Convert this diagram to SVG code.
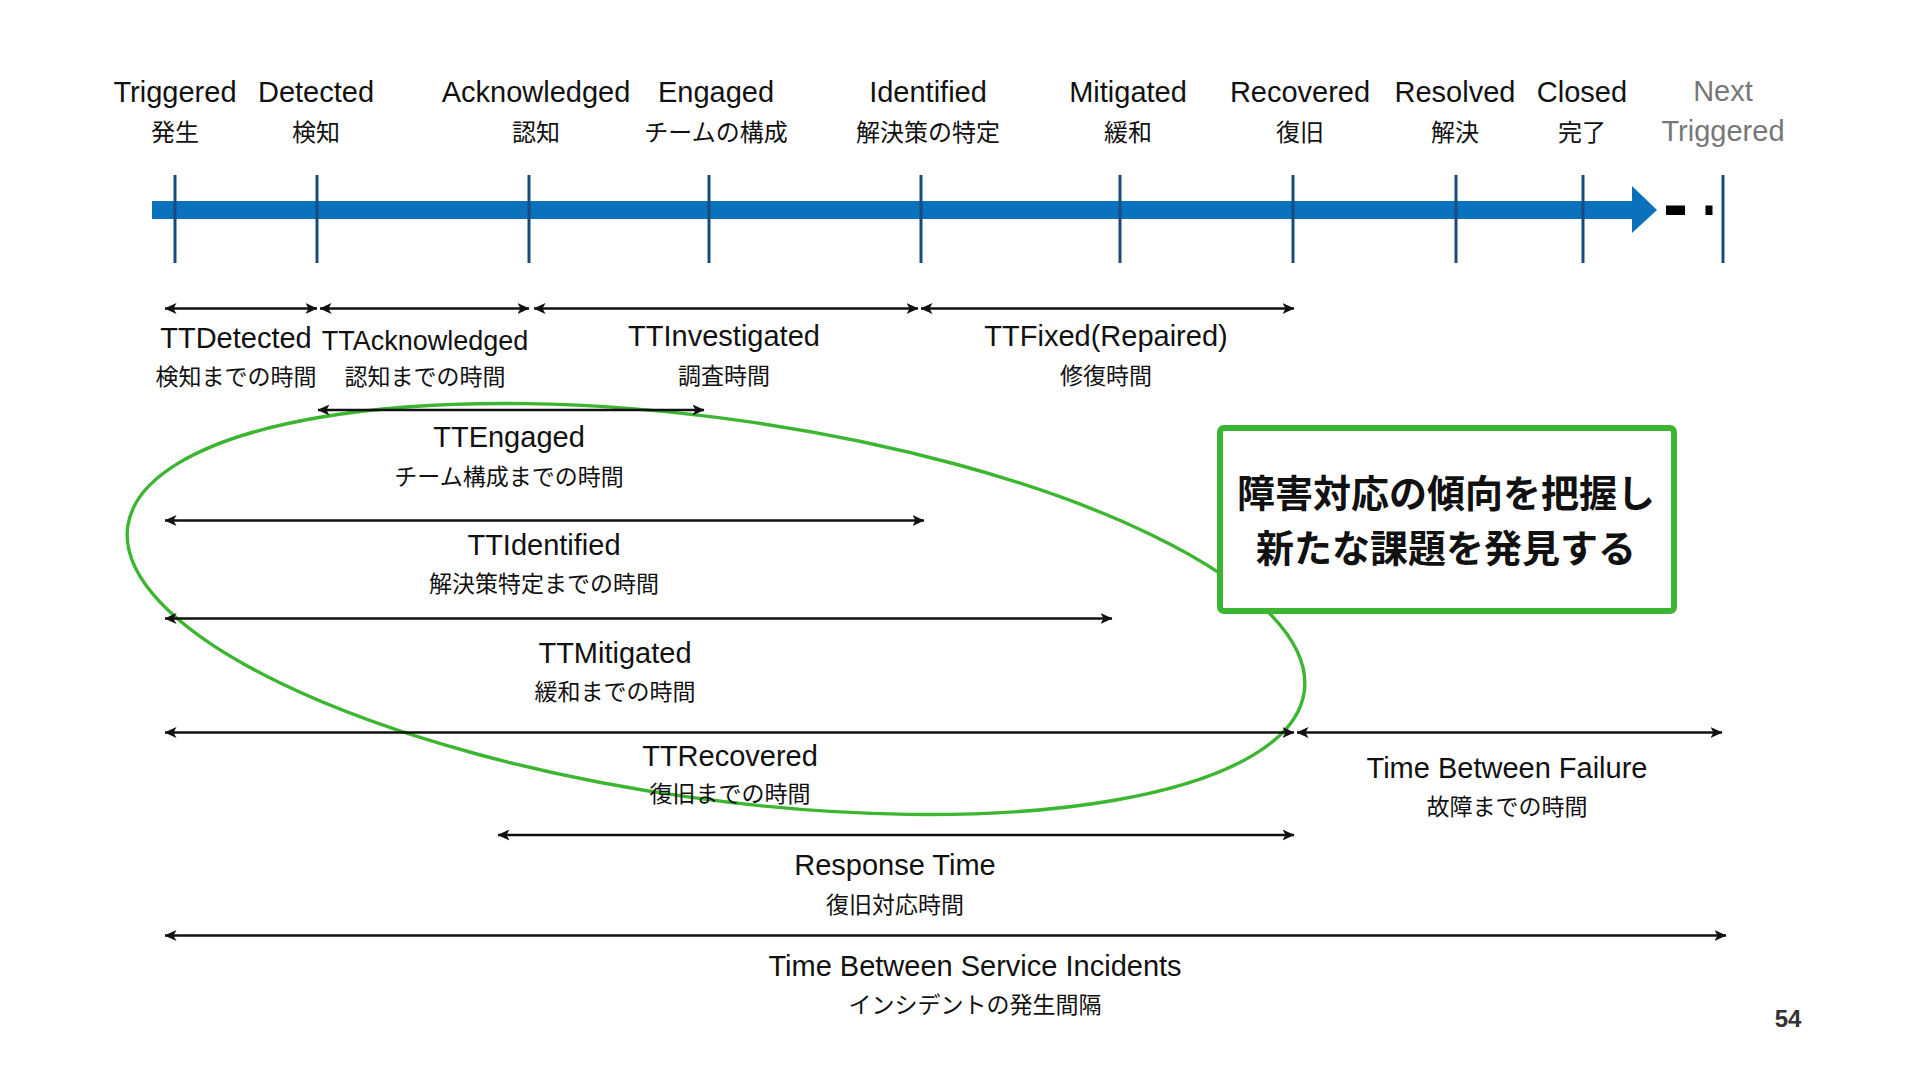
<svg xmlns="http://www.w3.org/2000/svg" width="1920" height="1080" viewBox="0 0 1920 1080">
<style>
.lat{font-family:"Liberation Sans","Noto Sans CJK JP",sans-serif;font-size:29px;fill:#111;text-anchor:middle}
.jp{font-family:"Noto Sans CJK JP",sans-serif;font-size:23px;fill:#111;text-anchor:middle}
.hjp{font-size:24px}
.gray{fill:#777}
.tick{stroke:#1a4b7c;stroke-width:3}
.arr{stroke:#111;stroke-width:2.4;fill:none;marker-start:url(#ah);marker-end:url(#ah)}
.box{font-family:"Noto Sans CJK JP",sans-serif;font-weight:700;font-size:38px;fill:#111;text-anchor:middle}
.grn{fill:none;stroke:#3cb531}
</style>
<defs>
<marker id="ah" markerUnits="userSpaceOnUse" markerWidth="12" markerHeight="11" viewBox="0 0 12 11" refX="11.5" refY="5.5" orient="auto-start-reverse"><path d="M0,0 L12,5.5 L0,11 L3,5.5 Z" fill="#111"/></marker>
</defs>
<rect width="1920" height="1080" fill="#fff"/>

<g id="timeline">
<rect x="152" y="201" width="1482" height="18" fill="#0a72bd"/>
<polygon points="1632,186 1657,210 1632,233" fill="#0a72bd"/>
<rect x="1666" y="205.5" width="19" height="9.5" fill="#000"/>
<rect x="1705.5" y="205.5" width="7" height="9.5" fill="#000"/>
</g>

<g id="m-triggered"><text class="lat" x="175" y="102">Triggered</text><text class="jp hjp" x="175" y="141">発生</text><line class="tick" x1="175" y1="175" x2="175" y2="263"/></g>
<g id="m-detected"><text class="lat" x="316" y="102">Detected</text><text class="jp hjp" x="316" y="141">検知</text><line class="tick" x1="317" y1="175" x2="317" y2="263"/></g>
<g id="m-acknowledged"><text class="lat" x="536" y="102">Acknowledged</text><text class="jp hjp" x="536" y="141">認知</text><line class="tick" x1="529" y1="175" x2="529" y2="263"/></g>
<g id="m-engaged"><text class="lat" x="716" y="102">Engaged</text><text class="jp hjp" x="716" y="141">チームの構成</text><line class="tick" x1="709" y1="175" x2="709" y2="263"/></g>
<g id="m-identified"><text class="lat" x="928" y="102">Identified</text><text class="jp hjp" x="928" y="141">解決策の特定</text><line class="tick" x1="921" y1="175" x2="921" y2="263"/></g>
<g id="m-mitigated"><text class="lat" x="1128" y="102">Mitigated</text><text class="jp hjp" x="1128" y="141">緩和</text><line class="tick" x1="1120" y1="175" x2="1120" y2="263"/></g>
<g id="m-recovered"><text class="lat" x="1300" y="102">Recovered</text><text class="jp hjp" x="1300" y="141">復旧</text><line class="tick" x1="1293" y1="175" x2="1293" y2="263"/></g>
<g id="m-resolved"><text class="lat" x="1455" y="102">Resolved</text><text class="jp hjp" x="1455" y="141">解決</text><line class="tick" x1="1456" y1="175" x2="1456" y2="263"/></g>
<g id="m-closed"><text class="lat" x="1582" y="102">Closed</text><text class="jp hjp" x="1582" y="141">完了</text><line class="tick" x1="1583" y1="175" x2="1583" y2="263"/></g>
<g id="m-next"><text class="lat gray" x="1723" y="101">Next</text><text class="lat gray" x="1723" y="141">Triggered</text><line class="tick" x1="1723" y1="175" x2="1723" y2="263"/></g>

<g id="highlight-ellipse">
<ellipse class="grn" cx="716" cy="609" rx="594" ry="190" transform="rotate(8 716 609)" stroke-width="3.4"/>
</g>

<g id="connectors">
<line class="arr" x1="165" y1="308.5" x2="317" y2="308.5"/>
<line class="arr" x1="320" y1="308.5" x2="529" y2="308.5"/>
<line class="arr" x1="534" y1="308.5" x2="918" y2="308.5"/>
<line class="arr" x1="921" y1="308.5" x2="1294" y2="308.5"/>
<line class="arr" x1="318" y1="410" x2="704" y2="410"/>
<line class="arr" x1="165" y1="520.5" x2="924" y2="520.5"/>
<line class="arr" x1="165" y1="618.5" x2="1112" y2="618.5"/>
<line class="arr" x1="165" y1="732.5" x2="1294" y2="732.5"/>
<line class="arr" x1="1297" y1="732.5" x2="1722" y2="732.5"/>
<line class="arr" x1="498" y1="835" x2="1294" y2="835"/>
<line class="arr" x1="165" y1="935.5" x2="1726" y2="935.5"/>
</g>

<g id="i-ttdetected"><text class="lat" x="236" y="348">TTDetected</text><text class="jp" x="236" y="385">検知までの時間</text></g>
<g id="i-ttacknowledged"><text class="lat" x="425" y="350" style="font-size:27px">TTAcknowledged</text><text class="jp" x="425" y="385">認知までの時間</text></g>
<g id="i-ttinvestigated"><text class="lat" x="724" y="346">TTInvestigated</text><text class="jp" x="724" y="384">調査時間</text></g>
<g id="i-ttfixed"><text class="lat" x="1106" y="346">TTFixed(Repaired)</text><text class="jp" x="1106" y="384">修復時間</text></g>
<g id="i-ttengaged"><text class="lat" x="509" y="447">TTEngaged</text><text class="jp" x="509" y="485">チーム構成までの時間</text></g>
<g id="i-ttidentified"><text class="lat" x="544" y="555">TTIdentified</text><text class="jp" x="544" y="592">解決策特定までの時間</text></g>
<g id="i-ttmitigated"><text class="lat" x="615" y="663">TTMitigated</text><text class="jp" x="615" y="700">緩和までの時間</text></g>
<g id="i-ttrecovered"><text class="lat" x="730" y="766">TTRecovered</text><text class="jp" x="730" y="802">復旧までの時間</text></g>
<g id="i-tbf"><text class="lat" x="1507" y="778">Time Between Failure</text><text class="jp" x="1507" y="815">故障までの時間</text></g>
<g id="i-response"><text class="lat" x="895" y="875">Response Time</text><text class="jp" x="895" y="913">復旧対応時間</text></g>
<g id="i-tbsi"><text class="lat" x="975" y="976">Time Between Service Incidents</text><text class="jp" x="975" y="1013">インシデントの発生間隔</text></g>

<g id="callout">
<rect x="1220" y="428" width="454" height="183" rx="4" fill="#fff" stroke="#3cb531" stroke-width="6"/>
<text class="box" x="1446" y="507">障害対応の傾向を把握し</text>
<text class="box" x="1446" y="562">新たな課題を発見する</text>
</g>

<g id="page-number"><text x="1788" y="1027" style="font-family:'Liberation Sans',sans-serif;font-weight:700;font-size:24px;fill:#333;text-anchor:middle">54</text></g>
</svg>
